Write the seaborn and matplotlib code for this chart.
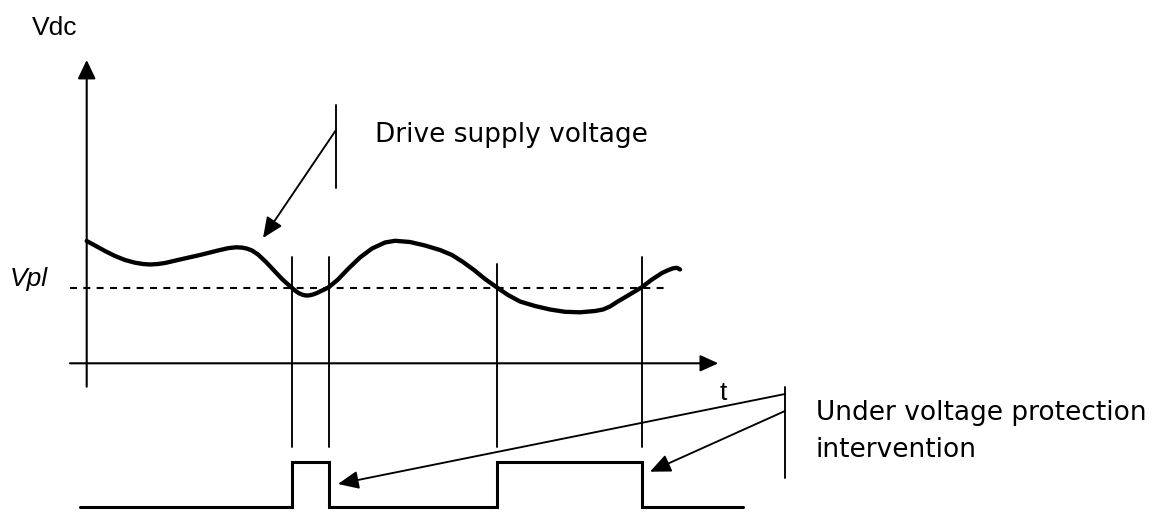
import matplotlib
matplotlib.use("Agg")
import matplotlib.pyplot as plt
import seaborn as sns
import pandas as pd

sns.set_theme(style="white")
plt.rcParams["lines.scale_dashes"] = False
plt.rcParams["font.family"] = ["DejaVu Sans"]

# Drive supply voltage trace (canvas units: x to the right, y downwards)
vdc_t = [86.7, 95, 105, 115, 125, 135, 143, 150, 158, 165, 180, 200, 218, 228,
         236, 242, 247, 252, 258, 266, 274, 282, 287, 291, 295, 299, 303, 306,
         309, 313, 317, 321, 325, 329, 338, 348, 360, 372, 385, 395, 410, 425,
         440, 452, 463, 474, 485, 497, 508, 520, 535, 550, 565, 580, 595, 603,
         610, 617, 628, 641.7, 652, 662, 668, 673, 677, 680]
vdc_v = [241, 245.5, 251, 256, 260, 262.7, 264, 264.5, 264, 263, 259.5, 255,
         250.5, 248.2, 247.3, 247.6, 248.6, 250.5, 254.5, 262, 270.5, 279, 283.5,
         287, 290.5, 293.3, 294.9, 295.5, 295.4, 294.5, 293, 291, 289.2, 287,
         279.5, 269, 257.5, 248.5, 242.5, 240.8, 242, 245.5, 250, 255, 262, 270,
         279, 287.5, 295, 301.5, 306, 309.5, 311.8, 312.3, 311, 309.5, 306.5,
         302, 295.5, 287.3, 279.5, 273, 270.2, 268.3, 267.8, 269.5]

# Undervoltage threshold level and its crossings
vpl_level = 287.5
vpl_span = [70, 665]
crossings = [291.7, 329.3, 496.7, 641.7]
crossing_top = [256.7, 256.7, 264.0, 256.7]
crossing_bottom = 446.7

# Protection signal (step edges and levels)
prot_edges = [80, 291.7, 329.3, 496.7, 641.7, 743]
prot_levels = [506.5, 462.3, 506.5, 462.3, 506.5, 506.5]

fig = plt.figure(figsize=(11.64, 5.12), dpi=100)
ax = fig.add_axes([0, 0, 1, 1])
ax.set_xlim(0, 1164)
ax.set_ylim(512, 0)
ax.set_axis_off()

K = "black"
thin = 1.35

# axes with arrowheads
ax.annotate("", xy=(86.7, 60), xytext=(86.7, 386.7),
            arrowprops=dict(arrowstyle="-|>,head_length=1.15,head_width=0.55",
                            mutation_scale=10, lw=1.5, color=K,
                            shrinkA=0, shrinkB=0))
ax.annotate("", xy=(718.3, 363.3), xytext=(70, 363.3),
            arrowprops=dict(arrowstyle="-|>,head_length=1.1,head_width=0.5",
                            mutation_scale=10, lw=1.5, color=K,
                            shrinkA=0, shrinkB=0))

# threshold line
ax.plot(vpl_span, [vpl_level, vpl_level], color=K, lw=1.5, dashes=[5.0, 4.6])

# crossing markers
for x0, y0 in zip(crossings, crossing_top):
    ax.plot([x0, x0], [y0, crossing_bottom], color=K, lw=thin)

# supply voltage curve
df = pd.DataFrame({"t": vdc_t, "v": vdc_v})
sns.lineplot(data=df, x="t", y="v", sort=False, color=K, lw=3.1, ax=ax,
             solid_capstyle="round", solid_joinstyle="round")

# protection signal
pdf = pd.DataFrame({"t": prot_edges, "s": prot_levels})
sns.lineplot(data=pdf, x="t", y="s", sort=False, color=K, lw=2.2, ax=ax,
             drawstyle="steps-post", solid_joinstyle="miter")

# callout: drive supply voltage
ax.plot([336, 336], [105, 188], color=K, lw=thin)
ax.annotate("", xy=(263, 238), xytext=(336, 130),
            arrowprops=dict(arrowstyle="-|>,head_length=1.25,head_width=0.55",
                            mutation_scale=10, lw=thin, color=K,
                            shrinkA=0, shrinkB=0))
ax.text(375, 141.7, "Drive supply voltage", fontsize=19, va="baseline",
        ha="left", color=K, family="DejaVu Sans")

# callout: undervoltage protection
ax.plot([785, 785], [386.7, 478.3], color=K, lw=thin)
ax.annotate("", xy=(338, 484), xytext=(785, 394),
            arrowprops=dict(arrowstyle="-|>,head_length=1.25,head_width=0.55",
                            mutation_scale=10, lw=thin, color=K,
                            shrinkA=0, shrinkB=0))
ax.annotate("", xy=(650, 471.7), xytext=(785, 411),
            arrowprops=dict(arrowstyle="-|>,head_length=1.25,head_width=0.55",
                            mutation_scale=10, lw=thin, color=K,
                            shrinkA=0, shrinkB=0))
ax.text(816, 420, "Under voltage protection", fontsize=19, va="baseline",
        ha="left", color=K, family="DejaVu Sans")
ax.text(816, 457.3, "intervention", fontsize=19, va="baseline",
        ha="left", color=K, family="DejaVu Sans")

# axis labels
ax.text(31.7, 35, "Vdc", fontsize=19, va="baseline", ha="left", color=K,
        family="Liberation Sans")
ax.text(723.5, 400, "t", fontsize=19, va="baseline", ha="center", color=K,
        family="Liberation Sans")
ax.text(10, 286, "Vpl", fontsize=19, va="baseline", ha="left", color=K,
        family="Liberation Sans", style="italic")

fig.savefig("out.png", dpi=100)
